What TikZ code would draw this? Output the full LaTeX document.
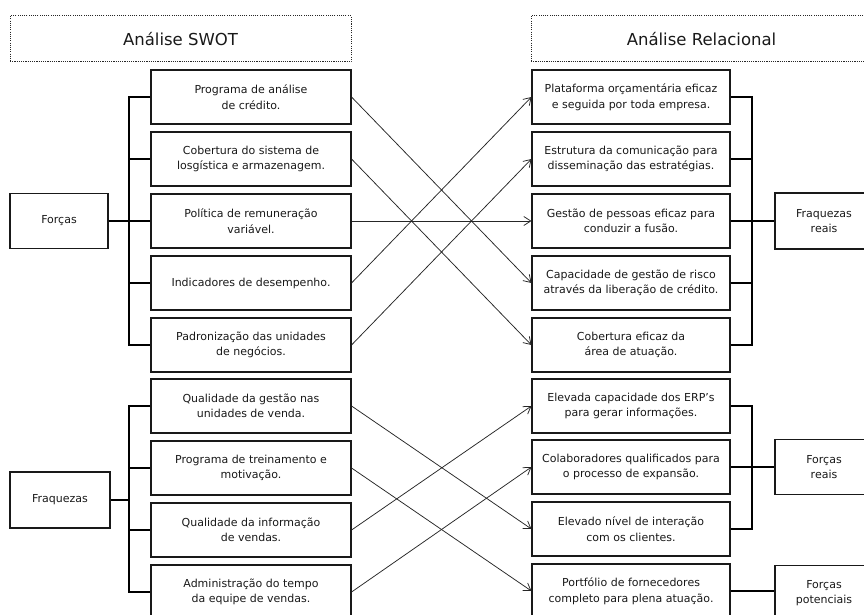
\documentclass[tikz,border=0pt]{standalone}
\usepackage{fontspec}
\setmainfont{DejaVu Sans}
\usetikzlibrary{arrows.meta}
\begin{document}
\begin{tikzpicture}[x=1pt,y=-1pt,
  txt/.style={text=black!90,font=\fontsize{11}{15.5}\selectfont},
  item/.style={txt,draw=black!90,line width=1.1pt,minimum height=54pt,align=center,inner sep=0pt},
  leftitem/.style={item,minimum width=200pt},
  rightitem/.style={item,minimum width=198pt},
  sidebox/.style={item,minimum width=98pt,minimum height=55pt},
  header/.style={draw=black!85,line width=1pt,dash pattern=on 1.1pt off 1.1pt,
    minimum width=341pt,minimum height=46pt,text=black!90,
    font=\fontsize{16.5}{20}\selectfont},
  bracket/.style={line width=2.3pt,draw=black},
  link/.style={line width=0.75pt,draw=black!85,-{Straight Barb[length=7pt,width=9pt,line width=0.75pt]}}
]
\useasboundingbox (0,0) rectangle (864,615);
\clip (0,0) rectangle (864,615);
\fill[white] (0,0) rectangle (864,615);

% column headings
\node[header] (hl) at (180.5,39) {Análise SWOT};
\node[header] (hr) at (701.5,39) {Análise Relacional};

% SWOT items
\node[leftitem] (l1) at (251,97)  {Programa de análise\\de crédito.};
\node[leftitem] (l2) at (251,159) {Cobertura do sistema de\\losgística e armazenagem.};
\node[leftitem] (l3) at (251,221) {Política de remuneração\\variável.};
\node[leftitem] (l4) at (251,283) {Indicadores de desempenho.};
\node[leftitem] (l5) at (251,345) {Padronização das unidades\\de negócios.};
\node[leftitem] (l6) at (251,406) {Qualidade da gestão nas\\unidades de venda.};
\node[leftitem] (l7) at (251,468) {Programa de treinamento e\\motivação.};
\node[leftitem] (l8) at (251,530) {Qualidade da informação\\de vendas.};
\node[leftitem] (l9) at (251,592) {Administração do tempo\\da equipe de vendas.};

% relational items
\node[rightitem] (r1) at (631,97)  {Plataforma orçamentária eficaz\\e seguida por toda empresa.};
\node[rightitem] (r2) at (631,159) {Estrutura da comunicação para\\disseminação das estratégias.};
\node[rightitem] (r3) at (631,221) {Gestão de pessoas eficaz para\\conduzir a fusão.};
\node[rightitem] (r4) at (631,283) {Capacidade de gestão de risco\\através da liberação de crédito.};
\node[rightitem] (r5) at (631,345) {Cobertura eficaz da\\área de atuação.};
\node[rightitem] (r6) at (631,406) {Elevada capacidade dos ERP’s\\para gerar informações.};
\node[rightitem] (r7) at (631,467) {Colaboradores qualificados para\\o processo de expansão.};
\node[rightitem] (r8) at (631,529) {Elevado nível de interação\\com os clientes.};
\node[rightitem] (r9) at (631,591) {Portfólio de fornecedores\\completo para plena atuação.};

% group boxes
\node[sidebox] (forcas) at (59,221) {Forças};
\node[sidebox,minimum width=100pt,minimum height=56pt] (fraq) at (60,500) {Fraquezas};
\node[sidebox,minimum height=56pt] (fraqreais) at (824,221) {Fraquezas\\reais};
\node[sidebox] (forcasreais) at (824,467) {Forças\\reais};
\node[sidebox] (forcaspot) at (824,593) {Forças\\potenciais};

% left brackets
\coordinate (lb) at (129,0);
\draw[bracket] (l1.west) -- (lb |- l1.west) -- (lb |- l5.west) -- (l5.west);
\foreach \n in {l2,l3,l4} \draw[bracket] (lb |- \n.west) -- (\n.west);
\draw[bracket] (forcas.east) -- (lb |- forcas.east);
\draw[bracket] (l6.west) -- (lb |- l6.west) -- (lb |- l9.west) -- (l9.west);
\foreach \n in {l7,l8} \draw[bracket] (lb |- \n.west) -- (\n.west);
\draw[bracket] (fraq.east) -- (lb |- fraq.east);

% right brackets
\coordinate (rb) at (752,0);
\draw[bracket] (r1.east) -- (rb |- r1.east) -- (rb |- r5.east) -- (r5.east);
\foreach \n in {r2,r3,r4} \draw[bracket] (\n.east) -- (rb |- \n.east);
\draw[bracket] (rb |- fraqreais.west) -- (fraqreais.west);
\draw[bracket] (r6.east) -- (rb |- r6.east) -- (rb |- r8.east) -- (r8.east);
\draw[bracket] (r7.east) -- (rb |- r7.east);
\draw[bracket] (rb |- forcasreais.west) -- (forcasreais.west);
\draw[bracket] (r9.east) -- (r9.east -| forcaspot.west);

% cross links
\draw[link] (l1.east) -- (r4.west);
\draw[link] (l2.east) -- (r5.west);
\draw[link] (l3.east) -- (r3.west);
\draw[link] (l4.east) -- (r1.west);
\draw[link] (l5.east) -- (r2.west);
\draw[link] (l6.east) -- (r8.west);
\draw[link] (l7.east) -- (r9.west);
\draw[link] (l8.east) -- (r6.west);
\draw[link] (l9.east) -- (r7.west);
\end{tikzpicture}
\end{document}
